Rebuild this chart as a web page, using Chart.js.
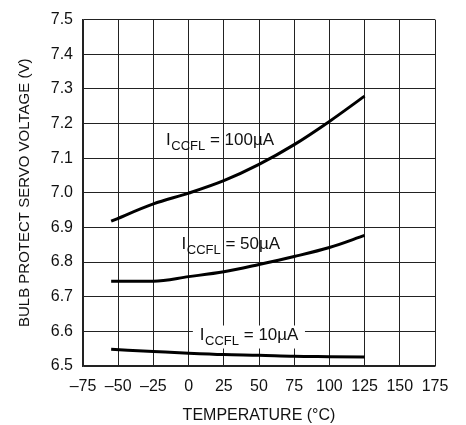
<!DOCTYPE html>
<html>
<head>
<meta charset="utf-8">
<script src="https://cdn.jsdelivr.net/npm/chart.js@4.4.0/dist/chart.umd.min.js"></script>
<style>
  html, body { margin: 0; padding: 0; background: #fff; }
  #wrap { width: 466px; height: 425px; }
</style>
</head>
<body>
<div id="wrap"><canvas id="chart" width="466" height="425"></canvas></div>
<script>
const temps = [-55, -25, 0, 25, 50, 75, 100, 125];
const v100uA = [6.918, 6.968, 6.999, 7.035, 7.082, 7.139, 7.206, 7.279];
const v50uA = [6.745, 6.745, 6.758, 6.772, 6.793, 6.816, 6.842, 6.877];
const v10uA = [6.548, 6.542, 6.537, 6.533, 6.531, 6.528, 6.527, 6.526];

// curve labels: [main, subscript, rest, x, y, white background]
const curveLabels = [
    ['I', 'CCFL', ' = 100\u00b5A', -16, 7.152, false],
    ['I', 'CCFL', ' = 50\u00b5A', -5, 6.85, false],
    ['I', 'CCFL', ' = 10\u00b5A', 8, 6.588, true]
];

const FONT = "'Liberation Sans Narrow', 'Liberation Sans', Arial, sans-serif";

function toPoints(ys) {
    return temps.map((t, i) => ({ x: t, y: ys[i] }));
}

function lineSet(ys) {
    return {
        data: toPoints(ys),
        borderColor: '#000',
        borderWidth: 3,
        pointRadius: 0,
        fill: false,
        cubicInterpolationMode: 'monotone'
    };
}

const labelPlugin = {
    id: 'curveLabels',
    afterDatasetsDraw(chart) {
        const ctx = chart.ctx;
        const xs = chart.scales.x, ys = chart.scales.y;
        ctx.save();
        ctx.textBaseline = 'middle';
        ctx.textAlign = 'left';
        curveLabels.forEach(l => {
            const px = xs.getPixelForValue(l[3]);
            const py = ys.getPixelForValue(l[4]);
            ctx.font = '17px ' + FONT;
            const w1 = ctx.measureText(l[0]).width;
            const w3 = ctx.measureText(l[2]).width;
            ctx.font = '13px ' + FONT;
            const w2 = ctx.measureText(l[1]).width;
            if (l[5]) {
                ctx.fillStyle = '#fff';
                ctx.fillRect(px - 7, py - 10, w1 + w2 + w3 + 14, 23);
            }
            ctx.fillStyle = '#111';
            ctx.font = '17px ' + FONT;
            ctx.fillText(l[0], px, py);
            ctx.font = '13px ' + FONT;
            ctx.fillText(l[1], px + w1 + 0.5, py + 6);
            ctx.font = '17px ' + FONT;
            ctx.fillText(l[2], px + w1 + w2 + 0.5, py);
        });
        ctx.restore();
    }
};

const config = {
    type: 'line',
    data: {
        datasets: [lineSet(v100uA), lineSet(v50uA), lineSet(v10uA)]
    },
    options: {
        responsive: false,
        animation: false,
        layout: {
            padding: { top: 15, right: 31, bottom: 0, left: 0 }
        },
        plugins: {
            legend: { display: false },
            tooltip: { enabled: false }
        },
        scales: {
            x: {
                type: 'linear',
                min: -75,
                max: 175,
                afterFit: s => { s.height = 59; },
                ticks: {
                    stepSize: 25,
                    color: '#111',
                    padding: 11,
                    maxRotation: 0,
                    font: { family: FONT, size: 16 },
                    callback: v => v < 0 ? '\u2013' + Math.abs(v) : String(v)
                },
                grid: { color: '#222', lineWidth: 1, drawTicks: false },
                border: { color: '#222', width: 1.5 },
                title: {
                    display: true,
                    text: 'TEMPERATURE (\u00b0C)',
                    color: '#111',
                    font: { family: FONT, size: 16 },
                    padding: { top: 6, bottom: 0 }
                }
            },
            y: {
                min: 6.5,
                max: 7.5,
                afterFit: s => { s.width = 83; },
                ticks: {
                    stepSize: 0.1,
                    color: '#111',
                    padding: 10,
                    font: { family: FONT, size: 16 },
                    callback: v => v.toFixed(1)
                },
                grid: { color: '#222', lineWidth: 1, drawTicks: false },
                border: { color: '#222', width: 1.5 },
                title: {
                    display: true,
                    text: 'BULB PROTECT SERVO VOLTAGE (V)',
                    color: '#111',
                    font: { family: FONT, size: 15 },
                    padding: { top: 16, bottom: 4 }
                }
            }
        }
    },
    plugins: [labelPlugin]
};

var chart = new Chart(document.getElementById('chart'), config);
</script>
</body>
</html>
